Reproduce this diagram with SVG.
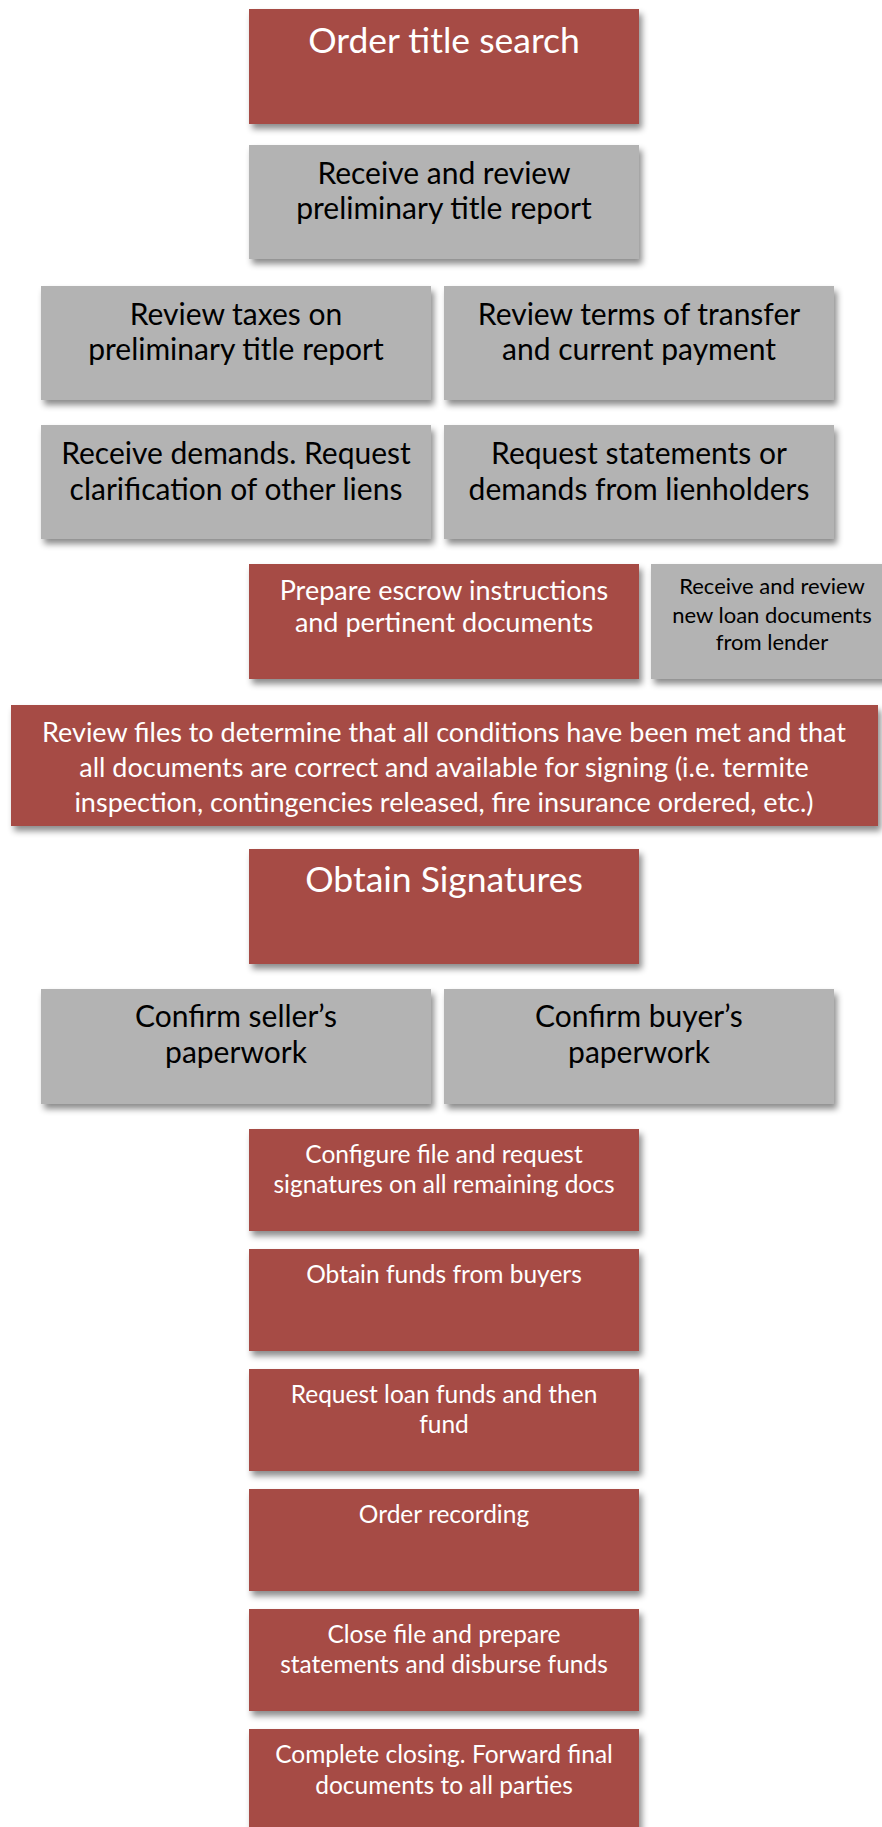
<svg xmlns="http://www.w3.org/2000/svg" width="882" height="1827" viewBox="0 0 882 1827">
<defs>
<filter id="sh" x="-10%" y="-10%" width="125%" height="135%">
<feDropShadow dx="3" dy="5" stdDeviation="3" flood-color="#000" flood-opacity="0.45"/>
</filter>
</defs>
<style>
.r{fill:#A64B45;filter:url(#sh)}
.g{fill:#B3B3B3;filter:url(#sh)}
text{font-family:Lato,"Open Sans","DejaVu Sans",sans-serif;text-anchor:middle}
.w{fill:#fff}
.k{fill:#000}
.f34{font-size:35.5px}
.f27{font-size:30px}
.f24{font-size:27px}
.f20{font-size:22px}
.f25{font-size:27px}
.f23{font-size:24.5px}
</style>
<rect width="882" height="1827" fill="#fff"/>
<g id="connectors"></g>
<g id="n1"><rect class="r" x="249" y="9" width="390" height="115"/><text class="w f34" x="444" y="53">Order title search</text></g>
<g id="n2"><rect class="g" x="249" y="145" width="390" height="114"/><text class="k f27" x="444" y="184">Receive and review</text><text class="k f27" x="444" y="219">preliminary title report</text></g>
<g id="n3"><rect class="g" x="41" y="286" width="390" height="114"/><text class="k f27" x="236" y="325">Review taxes on</text><text class="k f27" x="236" y="360">preliminary title report</text></g>
<g id="n4"><rect class="g" x="444" y="286" width="390" height="114"/><text class="k f27" x="639" y="325">Review terms of transfer</text><text class="k f27" x="639" y="360">and current payment</text></g>
<g id="n5"><rect class="g" x="41" y="425" width="390" height="114"/><text class="k f27" x="236" y="464">Receive demands. Request</text><text class="k f27" x="236" y="500">clarification of other liens</text></g>
<g id="n6"><rect class="g" x="444" y="425" width="390" height="114"/><text class="k f27" x="639" y="464">Request statements or</text><text class="k f27" x="639" y="500">demands from lienholders</text></g>
<g id="n7"><rect class="r" x="249" y="564" width="390" height="115"/><text class="w f24" x="444" y="600">Prepare escrow instructions</text><text class="w f24" x="444" y="632">and pertinent documents</text></g>
<g id="n8"><rect class="g" x="651" y="564" width="242" height="115"/><text class="k f20" x="772" y="594">Receive and review</text><text class="k f20" x="772" y="623">new loan documents</text><text class="k f20" x="772" y="650">from lender</text></g>
<g id="n9"><rect class="r" x="11" y="705" width="867" height="121"/><text class="w f25" x="444" y="742">Review files to determine that all conditions have been met and that</text><text class="w f25" x="444" y="777">all documents are correct and available for signing (i.e. termite</text><text class="w f25" x="444" y="812">inspection, contingencies released, fire insurance ordered, etc.)</text></g>
<g id="n10"><rect class="r" x="249" y="849" width="390" height="115"/><text class="w f34" x="444" y="892">Obtain Signatures</text></g>
<g id="n11"><rect class="g" x="41" y="989" width="390" height="115"/><text class="k f27" x="236" y="1027">Confirm seller’s</text><text class="k f27" x="236" y="1063">paperwork</text></g>
<g id="n12"><rect class="g" x="444" y="989" width="390" height="115"/><text class="k f27" x="639" y="1027">Confirm buyer’s</text><text class="k f27" x="639" y="1063">paperwork</text></g>
<g id="n13"><rect class="r" x="249" y="1129" width="390" height="102"/><text class="w f23" x="444" y="1163">Configure file and request</text><text class="w f23" x="444" y="1193">signatures on all remaining docs</text></g>
<g id="n14"><rect class="r" x="249" y="1249" width="390" height="102"/><text class="w f23" x="444" y="1283">Obtain funds from buyers</text></g>
<g id="n15"><rect class="r" x="249" y="1369" width="390" height="102"/><text class="w f23" x="444" y="1403">Request loan funds and then</text><text class="w f23" x="444" y="1433">fund</text></g>
<g id="n16"><rect class="r" x="249" y="1489" width="390" height="102"/><text class="w f23" x="444" y="1523">Order recording</text></g>
<g id="n17"><rect class="r" x="249" y="1609" width="390" height="102"/><text class="w f23" x="444" y="1643">Close file and prepare</text><text class="w f23" x="444" y="1673">statements and disburse funds</text></g>
<g id="n18"><rect class="r" x="249" y="1729" width="390" height="110"/><text class="w f23" x="444" y="1763">Complete closing. Forward final</text><text class="w f23" x="444" y="1794">documents to all parties</text></g>
</svg>
